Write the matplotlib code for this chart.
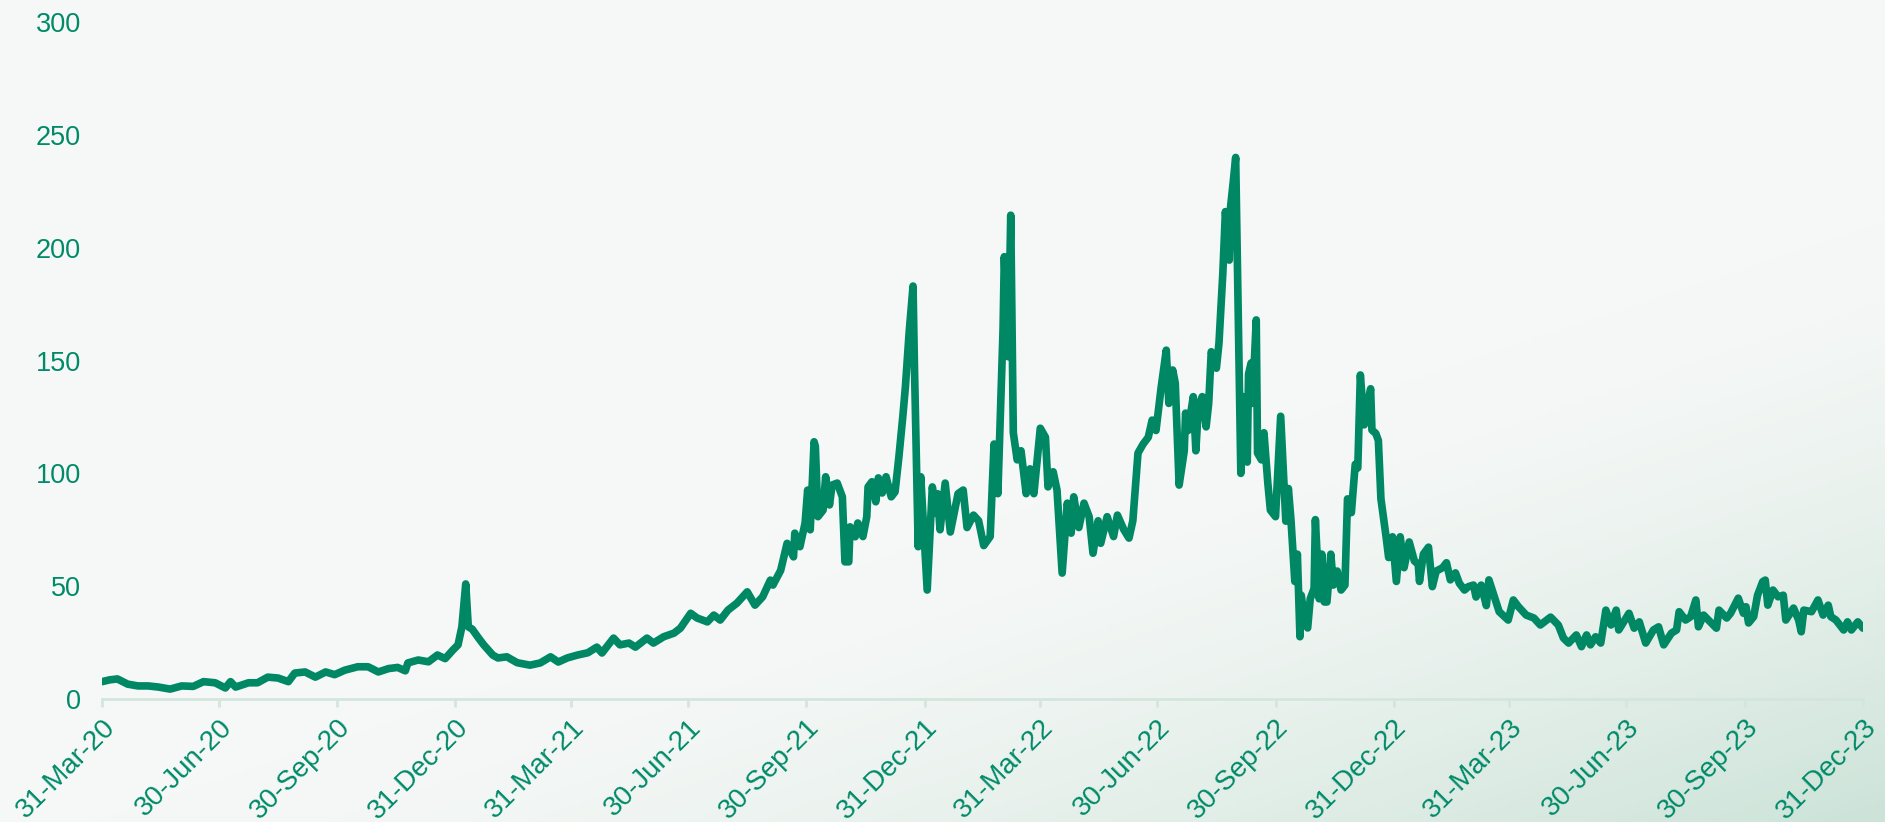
import numpy as np
import pandas as pd
import matplotlib
import matplotlib.pyplot as plt
matplotlib.use("Agg")

plt.rcParams["font.family"] = ["Liberation Sans", "DejaVu Sans"]

GREEN = "#008a68"
LINE = "#008864"
AXIS = "#d3e6de"

start = pd.Timestamp("2020-03-31")

# days since 31-Mar-20 and value
days = [
    0, 6, 12, 20, 28, 36, 44, 53, 62, 71, 79, 88, 96, 100, 104, 114, 121, 129,
    137, 145, 150, 158, 166, 174, 181, 189, 199, 207, 215, 223, 230, 236, 238,
    246, 254, 261, 267, 273, 277, 280, 283, 285, 288, 293, 297, 304,
    308, 315, 323, 333, 341, 349, 355, 362, 370, 378, 385, 389, 398, 403, 410,
    415, 424, 429, 437, 445, 450, 458, 463, 471, 476, 481, 487, 494, 502, 508,
    514, 520, 522, 528, 533, 538, 539, 543, 547, 549, 551, 554, 555, 557, 561,
    563, 566, 568, 572, 576, 578, 581, 582, 586, 588, 592, 595, 596, 599, 602,
    604, 607, 610, 614, 617, 620, 623, 625, 628, 631, 632, 635, 637, 642, 646,
    649, 650, 652, 656, 660, 666, 670, 673, 678, 682, 686, 691, 694, 697, 701,
    702, 705, 707, 709, 712, 715, 719, 722, 725, 730, 734, 736, 740, 743, 747,
    751, 754, 756, 760, 764, 768, 771, 775, 777, 782, 787, 790, 795, 799, 802,
    806, 810, 814, 817, 820, 824, 828, 830, 833, 835, 838, 842, 843, 845, 849,
    851, 853, 856, 859, 861, 863, 867, 869, 872, 874, 877, 878, 880, 882, 884,
    886, 888, 891, 892, 894, 895, 898, 899, 902, 904, 907, 909, 913,
    917, 921, 923, 925, 928, 930, 932, 933, 936, 938, 940, 943, 944, 947, 949,
    951, 953, 956, 958, 961, 964, 967, 969, 972, 975, 977, 979, 982, 984, 987,
    988, 991, 993, 995, 999, 1001, 1004, 1007, 1010, 1013, 1017, 1021, 1024,
    1025, 1028, 1032, 1035, 1038, 1043, 1046, 1049, 1053, 1056, 1060, 1063,
    1067, 1069, 1073, 1077, 1079,
    1084, 1087, 1094, 1098, 1102, 1108, 1114, 1119, 1127, 1133, 1137, 1141,
    1147, 1151, 1155, 1158, 1162, 1166, 1170, 1174, 1178, 1180, 1188, 1192,
    1196, 1201, 1207, 1211, 1215, 1221, 1225, 1227, 1232, 1236, 1240, 1242,
    1246, 1252, 1256, 1258, 1264, 1267, 1273, 1277, 1279, 1281, 1285, 1288,
    1292, 1294, 1296, 1300, 1304, 1308, 1310, 1316, 1320, 1322, 1324, 1330,
    1335, 1339, 1343, 1345, 1349, 1355, 1358, 1361, 1366, 1370,
]
values = [
    7.7, 8.5, 8.9, 6.6, 5.8, 5.8, 5.3, 4.4, 5.8, 5.6, 7.7, 7.2, 4.9, 7.7, 5.3,
    7.2, 7.2, 9.7, 9.3, 7.7, 11.5, 12, 9.7, 12, 10.8, 12.8, 14.3, 14.3, 12,
    13.5, 14, 12.5, 16, 17.3, 16.5, 19.5, 17.9, 21.7, 24, 32, 51, 32, 31, 27,
    24, 19.5,
    18.2, 18.7, 16.1, 15, 16, 18.7, 16.4, 18.2, 19.5, 20.5, 23, 20.4, 27, 24,
    24.8, 23, 27, 24.8, 27.6, 29.2, 31.4, 38, 35.9, 34.2, 37.2, 35, 39.4, 42.5,
    47.5, 41.6, 45.3, 52.7, 50.5, 57, 69, 63, 73.5, 67.5, 78, 92.6, 75, 114,
    112, 80.8, 83.7, 98.5, 86, 94.8, 95.7, 89.6, 60.8, 60.8, 76.3, 71.9, 78,
    72, 80.8, 94, 96.3, 87.4, 98, 91.3, 98.5, 89.6, 91.8, 107.4, 125, 138,
    162.7, 183, 150, 67.5, 98.5, 48.3, 94, 82.4, 91, 75, 95.7, 74, 91, 92.6,
    76, 81.5, 79, 68, 72, 113, 91, 163.5, 196, 151.7, 214.4, 118, 106, 110, 91,
    102, 91, 120, 116, 94, 100.7, 92.6, 55.8, 86.8, 73.5, 89.6, 76, 86.8, 80.8,
    64.6, 79, 69, 80.8, 72, 81.5, 75, 71.3, 79, 109, 113, 116, 123.6, 119, 138,
    154.6, 131, 145.8, 140, 94.8, 110, 126.7, 119, 134, 110, 129.5, 134, 120.6,
    131, 153.9, 146.6, 157.7, 188.7, 216, 194.5, 218, 228.6, 240, 169, 100,
    134, 105, 144, 148.9, 131, 168, 109, 106, 118, 95.7, 83.7, 80.8,
    125.3, 78.8, 93.3, 79.5, 52.1, 64.2, 27.6, 46, 33.8, 31.5, 44.4, 49, 79.5,
    44.4, 64.2, 43, 43, 64.2, 50.5, 56.7, 48.3, 50.5, 88.7, 82.6, 104, 102.4,
    143.6, 121.5, 128.4, 137.5, 119.2, 117.7, 114.6, 88.7, 71.9, 62.7, 71.9,
    52.1, 71.9, 58.2, 69.6, 61.2, 59.7, 52.1, 64.2, 67.3, 49.8, 56.7, 58.2,
    60.4, 52.8, 55.9, 51.3, 48.3, 49.8, 50.5, 45.2, 50.5, 41.4, 52.8,
    43.9, 38.7, 35, 43.9, 40.9, 37.2, 35.9, 32.8, 36.3, 32.8, 27, 24.8, 28.4,
    23.2, 28.4, 24, 27.6, 24.8, 39.4, 32.8, 39.4, 30.6, 38, 31.4, 34.2, 24.8,
    30.6, 32, 24, 29.2, 30.6, 38.7, 35, 36.5, 43.9, 32, 37.2, 33.7, 31.4, 39.4,
    35.9, 38, 44.7, 38, 40.9, 33.7, 36.5, 46, 52, 52.7, 41.6, 48.3, 45.3, 46,
    35, 40.3, 35, 29.8, 39.4, 38.7, 43.9, 37.2, 41.6, 36.5, 35, 30.6, 34.2,
    30.6, 34.2, 31.4,
]

tick_dates = ["2020-03-31", "2020-06-30", "2020-09-30", "2020-12-31",
              "2021-03-31", "2021-06-30", "2021-09-30", "2021-12-31",
              "2022-03-31", "2022-06-30", "2022-09-30", "2022-12-31",
              "2023-03-31", "2023-06-30", "2023-09-30", "2023-12-31"]
tick_labels = ["31-Mar-20", "30-Jun-20", "30-Sep-20", "31-Dec-20",
               "31-Mar-21", "30-Jun-21", "30-Sep-21", "31-Dec-21",
               "31-Mar-22", "30-Jun-22", "30-Sep-22", "31-Dec-22",
               "31-Mar-23", "30-Jun-23", "30-Sep-23", "31-Dec-23"]
y_ticks = [0, 50, 100, 150, 200, 250, 300]

dates = start + pd.to_timedelta(days, unit="D")

fig = plt.figure(figsize=(18.85, 8.22), dpi=100)

# soft background, green only near the bottom right corner
bg = fig.add_axes([0, 0, 1, 1], zorder=-1)
u, v = np.meshgrid(np.linspace(0, 1, 400), np.linspace(0, 1, 200))
t = np.clip((u + 1.3 * v - 1.35) / 0.95, 0, 1) ** 1.5
base = np.array([246, 248, 247]) / 255
corner = np.array([204, 227, 216]) / 255
img = base + t[..., None] * (corner - base)
bg.imshow(img, aspect="auto", extent=[0, 1, 0, 1], origin="upper")
bg.axis("off")

ax = fig.add_axes([0.0541, 0.1496, 0.9342, 0.8236])
ax.set_facecolor("none")
ax.plot(dates, values, color=LINE, lw=5.5, solid_joinstyle="round",
        solid_capstyle="round")

ax.set_ylim(0, 300)
ax.set_xlim(pd.Timestamp(tick_dates[0]), pd.Timestamp(tick_dates[-1]))
ax.set_yticks(y_ticks)
ax.set_xticks(pd.to_datetime(tick_dates))
ax.set_xticklabels(tick_labels, rotation=45, ha="right", va="top",
                   rotation_mode="anchor")

for s in ["top", "right", "left"]:
    ax.spines[s].set_visible(False)
ax.spines["bottom"].set_color(AXIS)
ax.spines["bottom"].set_linewidth(2)

ax.tick_params(axis="y", length=0, pad=15, labelsize=19.5, labelcolor=GREEN)
ax.tick_params(axis="x", length=6, width=2, color=AXIS, pad=5,
               labelsize=20, labelcolor=GREEN)

fig.savefig("out.png", dpi=100)
